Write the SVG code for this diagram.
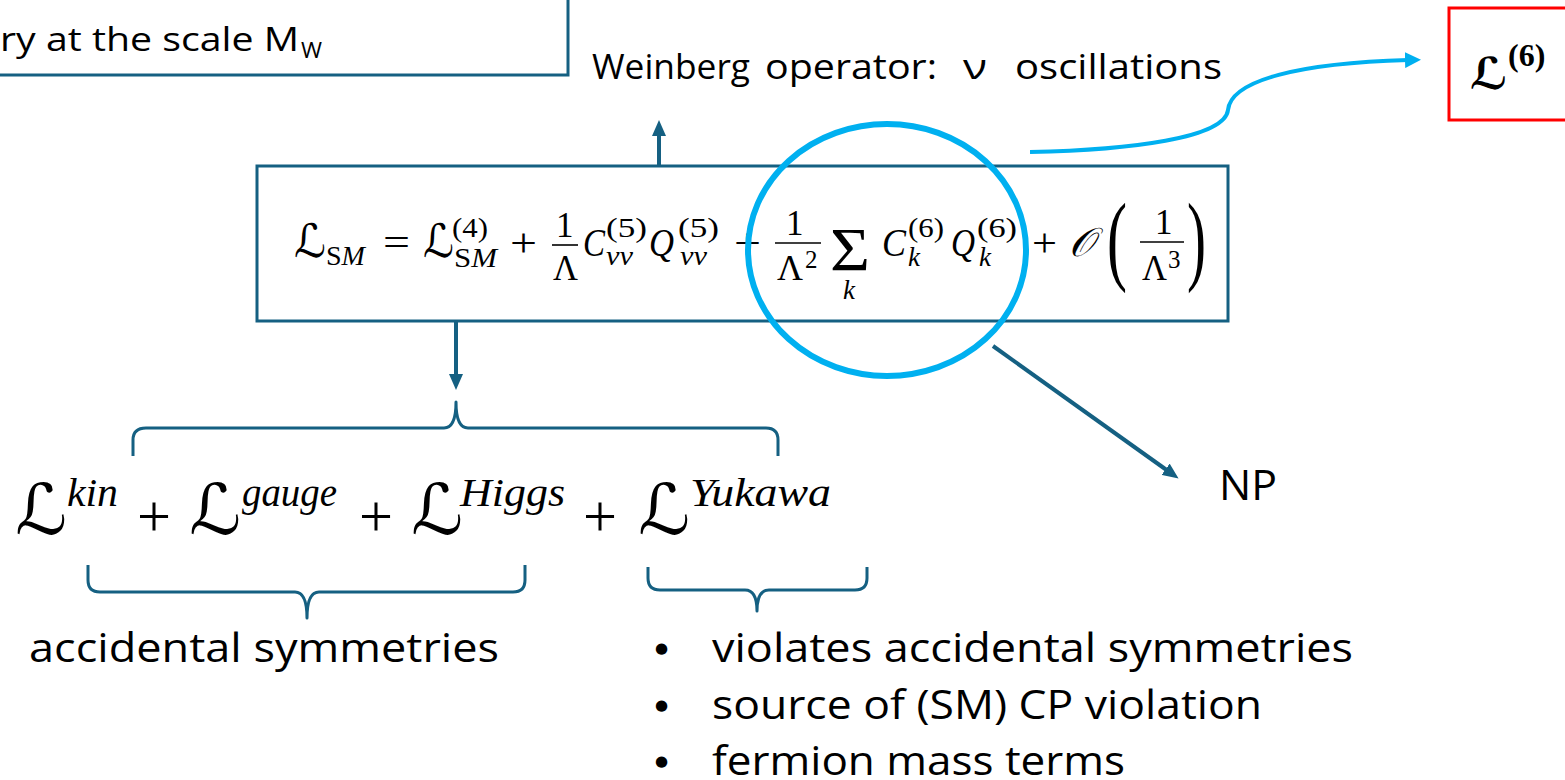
<svg xmlns="http://www.w3.org/2000/svg" width="1565" height="780" viewBox="0 0 1565 780">
<style>
.box{fill:none;stroke:#156082;stroke-width:3}
.red{fill:none;stroke:#FF0000;stroke-width:3}
.dk{fill:none;stroke:#156082;stroke-width:4}
.br{fill:none;stroke:#156082;stroke-width:3;stroke-linejoin:round}
.bl{fill:none;stroke:#00B0F0;stroke-width:4}
.circ{fill:none;stroke:#00B0F0;stroke-width:6}
.t{font-family:"Open Sans","Liberation Sans",sans-serif;fill:#000}
.m{font-family:"Liberation Serif","DejaVu Serif",serif;fill:#000}
.i{font-style:italic}
.cal{font-family:"DejaVu Serif","DejaVu Sans","Noto Sans",serif;fill:#000;font-style:italic}
.bar{stroke:#000;stroke-width:1.6}
.bul{font-family:"DejaVu Sans",sans-serif;font-size:15px;fill:#000}
</style>
<defs>
<marker id="ah" viewBox="0 0 16 14" markerWidth="16" markerHeight="14" refX="3" refY="7" orient="auto" markerUnits="userSpaceOnUse"><path d="M0,0 L16,7 L0,14 z" fill="#156082"/></marker>
<marker id="ahb" viewBox="0 0 16 16" markerWidth="16" markerHeight="16" refX="3" refY="8" orient="auto" markerUnits="userSpaceOnUse"><path d="M0,0 L16,8 L0,16 z" fill="#00B0F0"/></marker>
</defs>

<g id="scale-box">
<rect class="box" x="-10" y="-10" width="578" height="85"/>
<text class="t" x="0" y="51" font-size="32" textLength="299" lengthAdjust="spacingAndGlyphs">ry at the scale M</text>
<text class="t" x="301" y="58" font-size="21" textLength="21" lengthAdjust="spacingAndGlyphs">W</text>
</g>

<g id="weinberg">
<text class="t" x="592" y="79" font-size="35" textLength="158" lengthAdjust="spacingAndGlyphs">Weinberg</text>
<text class="t" x="765" y="79" font-size="35" textLength="172" lengthAdjust="spacingAndGlyphs">operator:</text>
<text class="t" x="963" y="79" font-size="35" textLength="24" lengthAdjust="spacingAndGlyphs">ν</text>
<text class="t" x="1015" y="79" font-size="35" textLength="207" lengthAdjust="spacingAndGlyphs">oscillations</text>
</g>

<g id="main-eq">
<rect class="box" x="257" y="166" width="971" height="155"/>
<text class="cal" x="294" y="257" font-size="46" textLength="32" lengthAdjust="spacingAndGlyphs">ℒ</text>
<text class="m" x="326" y="265" font-size="27" textLength="39" lengthAdjust="spacingAndGlyphs">S<tspan class="i">M</tspan></text>
<text class="m" x="383" y="256" font-size="40" textLength="27" lengthAdjust="spacingAndGlyphs">=</text>
<text class="cal" x="423" y="257" font-size="46" textLength="31" lengthAdjust="spacingAndGlyphs">ℒ</text>
<text class="m" x="452" y="237" font-size="27" textLength="36" lengthAdjust="spacingAndGlyphs">(4)</text>
<text class="m" x="454" y="267" font-size="27" textLength="43" lengthAdjust="spacingAndGlyphs">S<tspan class="i">M</tspan></text>
<text class="m" x="510" y="256" font-size="40" textLength="27" lengthAdjust="spacingAndGlyphs">+</text>
<text class="m" x="556" y="237" font-size="35">1</text>
<line class="bar" x1="552" y1="245" x2="578" y2="245"/>
<text class="m" x="553" y="280" font-size="36" textLength="25" lengthAdjust="spacingAndGlyphs">Λ</text>
<text class="m i" x="583" y="256" font-size="40" textLength="22" lengthAdjust="spacingAndGlyphs">C</text>
<text class="m" x="606" y="237" font-size="27" textLength="41" lengthAdjust="spacingAndGlyphs">(5)</text>
<text class="m i" x="606" y="265" font-size="27" textLength="27" lengthAdjust="spacingAndGlyphs">νν</text>
<text class="m i" x="649" y="256" font-size="40" textLength="25" lengthAdjust="spacingAndGlyphs">Q</text>
<text class="m" x="678" y="237" font-size="27" textLength="41" lengthAdjust="spacingAndGlyphs">(5)</text>
<text class="m i" x="680" y="265" font-size="27" textLength="27" lengthAdjust="spacingAndGlyphs">νν</text>
<text class="m" x="734" y="256" font-size="40" textLength="27" lengthAdjust="spacingAndGlyphs">+</text>
<text class="m" x="786" y="235" font-size="35">1</text>
<line class="bar" x1="775" y1="243" x2="821" y2="243"/>
<text class="m" x="777" y="280" font-size="36" textLength="26" lengthAdjust="spacingAndGlyphs">Λ</text>
<text class="m" x="805" y="268" font-size="25">2</text>
<text class="m" x="830" y="270" font-size="62" textLength="40" lengthAdjust="spacingAndGlyphs">Σ</text>
<text class="m i" x="843" y="299" font-size="27">k</text>
<text class="m i" x="882" y="256" font-size="40" textLength="24" lengthAdjust="spacingAndGlyphs">C</text>
<text class="m" x="908" y="237" font-size="27" textLength="36" lengthAdjust="spacingAndGlyphs">(6)</text>
<text class="m i" x="908" y="266" font-size="27">k</text>
<text class="m i" x="951" y="256" font-size="40" textLength="24" lengthAdjust="spacingAndGlyphs">Q</text>
<text class="m" x="977" y="237" font-size="27" textLength="40" lengthAdjust="spacingAndGlyphs">(6)</text>
<text class="m i" x="979" y="266" font-size="27">k</text>
<text class="m" x="1032" y="256" font-size="40" textLength="25" lengthAdjust="spacingAndGlyphs">+</text>
<text class="cal" x="1069" y="256" font-size="40" textLength="25" lengthAdjust="spacingAndGlyphs">𝒪</text>
<text class="m" x="1107" y="272" font-size="100" textLength="20" lengthAdjust="spacingAndGlyphs">(</text>
<text class="m" x="1155" y="234" font-size="35">1</text>
<line class="bar" x1="1140" y1="242" x2="1184" y2="242"/>
<text class="m" x="1142" y="280" font-size="36" textLength="25" lengthAdjust="spacingAndGlyphs">Λ</text>
<text class="m" x="1168" y="268" font-size="25">3</text>
<text class="m" x="1187" y="272" font-size="100" textLength="19" lengthAdjust="spacingAndGlyphs">)</text>
</g>

<g id="d6-highlight">
<ellipse class="circ" cx="887" cy="250" rx="139" ry="126"/>
</g>

<g id="l6-box">
<rect class="red" x="1449" y="8" width="130" height="112"/>
<text class="cal" x="1470" y="89" font-size="44" textLength="38" lengthAdjust="spacingAndGlyphs" font-weight="bold">ℒ</text>
<text class="m" x="1508" y="66" font-size="32" font-weight="bold">(6)</text>
</g>

<g id="sm-terms">
<text class="cal" x="15" y="534" font-size="70" textLength="52" lengthAdjust="spacingAndGlyphs">ℒ</text>
<text class="m i" x="67" y="506" font-size="40" textLength="51" lengthAdjust="spacingAndGlyphs">kin</text>
<text class="m" x="137" y="536" font-size="60" textLength="34" lengthAdjust="spacingAndGlyphs">+</text>
<text class="cal" x="189" y="534" font-size="70" textLength="52" lengthAdjust="spacingAndGlyphs">ℒ</text>
<text class="m i" x="242" y="506" font-size="40" textLength="95" lengthAdjust="spacingAndGlyphs">gauge</text>
<text class="m" x="359" y="536" font-size="60" textLength="34" lengthAdjust="spacingAndGlyphs">+</text>
<text class="cal" x="411" y="534" font-size="70" textLength="52" lengthAdjust="spacingAndGlyphs">ℒ</text>
<text class="m i" x="460" y="506" font-size="40" textLength="105" lengthAdjust="spacingAndGlyphs">Higgs</text>
<text class="m" x="583" y="536" font-size="60" textLength="34" lengthAdjust="spacingAndGlyphs">+</text>
<text class="cal" x="638" y="534" font-size="70" textLength="52" lengthAdjust="spacingAndGlyphs">ℒ</text>
<text class="m i" x="690" y="506" font-size="40" textLength="141" lengthAdjust="spacingAndGlyphs">Yukawa</text>
</g>

<g id="accidental">
<text class="t" x="29" y="662" font-size="40" textLength="470" lengthAdjust="spacingAndGlyphs">accidental symmetries</text>
</g>

<g id="yukawa-notes">
<text class="bul" x="655" y="653">●</text>
<text class="t" x="712" y="662" font-size="40" textLength="641" lengthAdjust="spacingAndGlyphs">violates accidental symmetries</text>
<text class="bul" x="655" y="710">●</text>
<text class="t" x="712" y="719" font-size="40" textLength="550" lengthAdjust="spacingAndGlyphs">source of (SM) CP violation</text>
<text class="bul" x="655" y="766">●</text>
<text class="t" x="712" y="775" font-size="40" textLength="413" lengthAdjust="spacingAndGlyphs">fermion mass terms</text>
</g>

<g id="np">
<text class="t" x="1219" y="500" font-size="42" textLength="58" lengthAdjust="spacingAndGlyphs">NP</text>
</g>

<g id="connectors">
<line class="dk" x1="659" y1="165" x2="659" y2="133" marker-end="url(#ah)"/>
<line class="dk" x1="456" y1="321" x2="456" y2="377" marker-end="url(#ah)"/>
<line class="dk" x1="993" y1="346" x2="1168" y2="471" stroke-width="5" marker-end="url(#ah)"/>
<path class="bl" d="M1030,152 C1130,150 1225,138 1228,110 C1231,80 1300,63 1408,60" marker-end="url(#ahb)"/>
<path class="br" d="M133,456 L133,440 Q133,428 146,428 L444,428 Q456,428 456,402 Q456,428 468,428 L766,428 Q778,428 778,440 L778,456"/>
<path class="br" d="M88,565 L88,580 Q88,592 100,592 L295,592 Q307,592 307,618 Q307,592 319,592 L513,592 Q525,592 525,580 L525,565"/>
<path class="br" d="M648,567 L648,578 Q648,590 660,590 L745,590 Q757,590 757,611 Q757,590 769,590 L855,590 Q867,590 867,578 L867,567"/>
</g>
</svg>
